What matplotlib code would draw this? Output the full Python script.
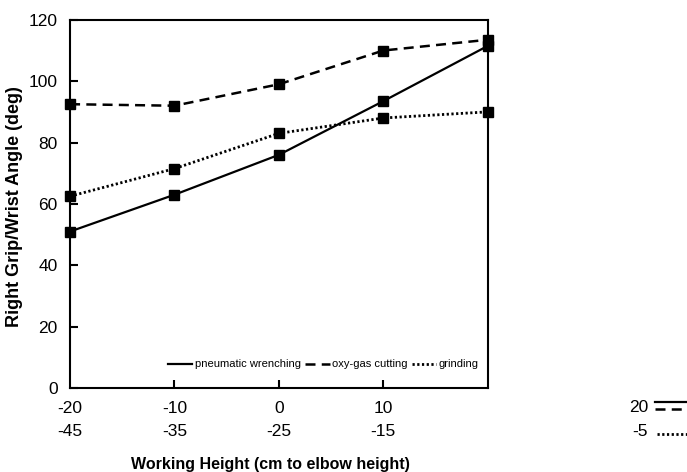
import matplotlib
matplotlib.use("Agg")
import matplotlib.pyplot as plt
from matplotlib.lines import Line2D

plt.rcParams['font.family'] = ['Liberation Sans', 'DejaVu Sans']

x_top = [-20, -10, 0, 10, 20]
x_bottom = [-45, -35, -25, -15, -5]
pneumatic = [51, 63, 76, 93.5, 111.5]
oxygas = [92.5, 92, 99, 110, 113.5]
grinding = [62.5, 71.5, 83, 88, 90]
yticks = [0, 20, 40, 60, 80, 100, 120]
labels = ['pneumatic wrenching', 'oxy-gas cutting', 'grinding']

W, H = 687, 472
fig = plt.figure(figsize=(W / 100, H / 100), dpi=100)
ax = fig.add_axes([0.102, 0.178, 0.608, 0.780])

ms = 7
solid = dict(color='black', lw=1.6)
dashed = dict(color='black', lw=1.8, ls=(0, (4, 2.5)))
dotted = dict(color='black', lw=2, ls=(0, (0.8, 0.9)))
ax.plot(x_top, pneumatic, marker='s', ms=ms, clip_on=False, **solid)
ax.plot(x_top, oxygas, marker='s', ms=ms, clip_on=False, **dashed)
ax.plot(x_top, grinding, marker='s', ms=ms, clip_on=False, **dotted)

ax.set_xlim(-20, 20)
ax.set_ylim(0, 120)
ax.set_yticks(yticks)
ax.set_yticklabels([str(v) for v in yticks], fontsize=12.5)
ax.set_xticks(x_top[1:-1])
ax.set_xticklabels([])
ax.tick_params(axis='both', direction='in', length=6, width=1.5)
ax.tick_params(axis='y', pad=9)
for s in ax.spines.values():
    s.set_linewidth(1.5)

# two-row x tick labels
for i, (a, b) in enumerate(zip(x_top, x_bottom)):
    if i < len(x_top) - 1:
        ax.annotate(str(a), xy=(a, 0), xycoords='data', xytext=(0, -14.5),
                    textcoords='offset points', ha='center', va='center', fontsize=12.5)
        ax.annotate(str(b), xy=(a, 0), xycoords='data', xytext=(0, -31),
                    textcoords='offset points', ha='center', va='center', fontsize=12.5)

# shifted labels for last column with line keys
fig.text(648 / W, 1 - 407 / H, str(x_top[-1]), ha='right', va='center', fontsize=12.5)
fig.text(648 / W, 1 - 431 / H, str(x_bottom[-1]), ha='right', va='center', fontsize=12.5)
fig.add_artist(Line2D([655 / W, 1.0], [1 - 402 / H] * 2, transform=fig.transFigure, **solid))
fig.add_artist(Line2D([655 / W, 1.0], [1 - 409 / H] * 2, transform=fig.transFigure, **dashed))
fig.add_artist(Line2D([657 / W, 1.0], [1 - 434 / H] * 2, transform=fig.transFigure, **dotted))

fig.text(15 / W, 1 - 207 / H, 'Right Grip/Wrist Angle (deg)', rotation=90, ha='center', va='center',
         fontsize=13, fontweight='bold')
fig.text(270 / W, 1 - 465 / H, 'Working Height (cm to elbow height)', ha='center', va='center',
         fontsize=11.5, fontweight='bold')

h1 = Line2D([], [], **solid)
h2 = Line2D([], [], **dashed)
h3 = Line2D([], [], **dotted)
leg = ax.legend([h1, h2, h3], labels, ncol=3, frameon=False, fontsize=8,
                handlelength=2.2, handletextpad=0.2, columnspacing=0.4,
                loc='center', bbox_to_anchor=(0.606, 0.064))

fig.savefig('out.png', dpi=100)
